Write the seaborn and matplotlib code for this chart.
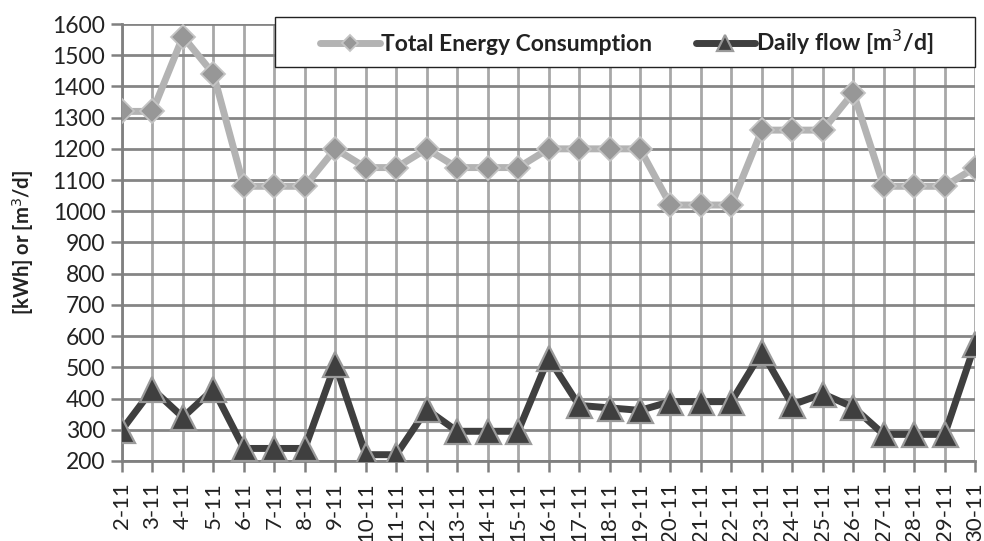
import numpy as np
import pandas as pd
import seaborn as sns
import matplotlib.pyplot as plt
from matplotlib.patches import Rectangle

days = ['2-11', '3-11', '4-11', '5-11', '6-11', '7-11', '8-11', '9-11', '10-11', '11-11',
        '12-11', '13-11', '14-11', '15-11', '16-11', '17-11', '18-11', '19-11', '20-11', '21-11',
        '22-11', '23-11', '24-11', '25-11', '26-11', '27-11', '28-11', '29-11', '30-11']
energy = [1320, 1320, 1560, 1440, 1080, 1080, 1080, 1200, 1140, 1140,
          1200, 1140, 1140, 1140, 1200, 1200, 1200, 1200, 1020, 1020,
          1020, 1260, 1260, 1260, 1380, 1080, 1080, 1080, 1140]
flow = [300, 430, 340, 430, 240, 240, 240, 510, 220, 220,
        365, 295, 295, 295, 530, 378, 370, 362, 390, 390,
        390, 550, 380, 415, 372, 285, 285, 285, 575]

df = pd.DataFrame({'pos': np.arange(len(days)), 'day': days, 'energy': energy, 'flow': flow})

sns.set_style('white')
plt.rcParams['font.family'] = ['Lato', 'DejaVu Sans']

fig = plt.figure(figsize=(9.84, 5.41), dpi=100)
ax = fig.add_axes([0.124, 0.148, 0.867, 0.8076])

sns.lineplot(data=df, x='pos', y='energy', ax=ax, color='#b3b3b3', linewidth=5,
             marker='D', markersize=12, markerfacecolor='#979797', markeredgecolor='#c4c4c4',
             markeredgewidth=1.3, label='Total Energy Consumption', zorder=3)
sns.lineplot(data=df, x='pos', y='flow', ax=ax, color='#3f3f3f', linewidth=5,
             marker='^', markersize=18, markerfacecolor='#3f3f3f', markeredgecolor='#9a9a9a',
             markeredgewidth=1.6, label='Daily flow [m$^3$/d]', zorder=4)

ax.set_xlim(0, len(days) - 1)
ax.set_ylim(200, 1600)
ax.set_yticks(np.arange(200, 1601, 100))
ax.set_xticks(df['pos'])
ax.set_xticklabels(days, rotation=90, fontsize=16, color='#222222')
ax.tick_params(axis='y', labelsize=16.5, labelcolor='#222222', pad=4)
ax.tick_params(axis='x', pad=7)
ax.tick_params(axis='both', direction='out', length=8, width=1.8, color='#808080', bottom=True, left=True)
ax.set_xlabel('')
ax.set_ylabel('[kWh] or [m$^3$/d]', fontsize=14.5, fontweight='bold', color='#222222', labelpad=12)

ax.grid(True)
ax.xaxis.grid(True, color='#a8a8a8', linewidth=2)
ax.yaxis.grid(True, color='#858585', linewidth=2)
ax.set_axisbelow(True)
for side in ['top', 'right']:
    ax.spines[side].set_visible(False)
for side in ['left', 'bottom']:
    ax.spines[side].set_color('#808080')
    ax.spines[side].set_linewidth(2)

# legend box drawn separately so it can be wider than its content
box = Rectangle((0.179, 0.9016), 0.821, 0.1144, transform=ax.transAxes, facecolor='white',
                edgecolor='#222222', linewidth=1.0, clip_on=False, zorder=9)
ax.add_patch(box)
leg = ax.legend(loc='center', bbox_to_anchor=(0.592, 0.9588), ncol=2, frameon=False,
                fontsize=16.5, handlelength=2.6, handletextpad=0.05, columnspacing=1.9,
                borderaxespad=0, borderpad=0)
for t in leg.get_texts():
    t.set_fontweight('bold')
    t.set_color('#222222')
# Excel shows smaller markers in the legend
leg.legend_handles[0].set_markersize(8)
leg.legend_handles[1].set_markersize(11)
leg.set_zorder(10)

fig.savefig('out.png', dpi=100)
